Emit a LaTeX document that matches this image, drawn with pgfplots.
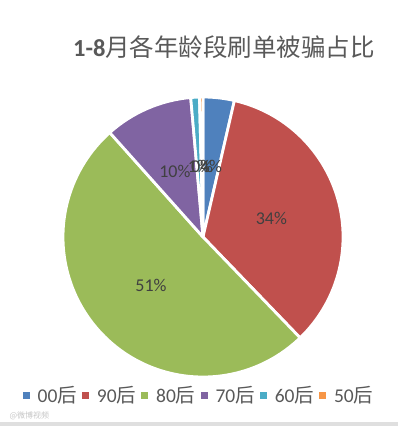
\documentclass[border=0pt]{standalone}
\usepackage{pgfplots}
\usepackage{pgfplotstable}
\pgfplotsset{compat=1.18}
\usetikzlibrary{calc}
\usepackage{fontspec}
\setmainfont{Carlito}
\newfontfamily\cjk{Noto Sans CJK SC}
\definecolor{c1}{HTML}{4F81BD}
\definecolor{c2}{HTML}{C0504D}
\definecolor{c3}{HTML}{9BBB59}
\definecolor{c4}{HTML}{8064A2}
\definecolor{c5}{HTML}{4BACC6}
\definecolor{c6}{HTML}{F79646}
\definecolor{txt}{HTML}{595959}
\definecolor{lbl}{HTML}{404040}
\pgfplotstableread{
group value color
00 3.6 c1
90 34.2 c2
80 50.6 c3
70 10.2 c4
60 1.0 c5
50 0.4 c6
}\piedata
\begin{document}
\begin{tikzpicture}
\begin{axis}[
  scale only axis, width=398pt, height=426pt,
  xmin=0, xmax=398, ymin=0, ymax=426, y dir=reverse,
  hide axis, clip=false,
  legend columns=6,
  legend style={draw=none, fill=none, at={(axis description cs:0.5,0.072)}, anchor=center,
    font=\fontsize{19.5}{19.5}\selectfont, text=txt,
    /tikz/every odd column/.append style={column sep=6pt},
    /tikz/every even column/.append style={column sep=3pt},
    legend cell align=left, inner sep=0pt},
  legend image code/.code={\fill[#1, draw=none] (0pt,-3.5pt) rectangle (7pt,3.5pt);},
]
\fill[white] (axis description cs:0,0) rectangle (axis description cs:1,1);
\fill[gray!25] (axis cs:0,422) rectangle (axis cs:398,426);
\node[text=gray!45, font=\cjk\fontsize{8}{8}\selectfont, anchor=west] at (axis cs:6,416) {@微博视频};
\node[font=\fontsize{24.5}{24.5}\selectfont, text=txt] at (axis cs:224,47) {\textbf{1-8}{\cjk 月各年龄段刷单被骗占比}};
\gdef\cum{0}
\pgfplotsforeachungrouped \i in {0,...,5}{
  \pgfplotstablegetelem{\i}{value}\of\piedata \let\val\pgfplotsretval
  \pgfplotstablegetelem{\i}{color}\of\piedata \let\col\pgfplotsretval
  \pgfmathsetmacro\sa{90-3.6*\cum}
  \pgfmathsetmacro\ea{90-3.6*(\cum+\val)}
  \pgfmathsetmacro\newcum{\cum+\val}
  \xdef\cum{\newcum}
  \edef\temp{\noexpand\fill[\col, draw=white, line width=2.8pt, line join=round] (axis cs:203,237) -- ++(\sa:140pt) arc[start angle=\sa, end angle=\ea, radius=140pt] -- cycle;}
  \temp
}
\gdef\cum{0}
\pgfplotsforeachungrouped \i in {0,...,5}{
  \pgfplotstablegetelem{\i}{value}\of\piedata \let\val\pgfplotsretval
  \pgfmathsetmacro\sa{90-3.6*\cum}
  \pgfmathsetmacro\ea{90-3.6*(\cum+\val)}
  \pgfmathsetmacro\ma{(\sa+\ea)/2}
  \pgfmathsetmacro\newcum{\cum+\val}
  \xdef\cum{\newcum}
  \pgfmathtruncatemacro\pct{round(\val)}
  \edef\temp{\noexpand\node[text=lbl, font=\noexpand\fontsize{18}{18}\noexpand\selectfont] at ($(axis cs:203,237)+(\ma:71pt)$) {\pct\noexpand\%};}
  \temp
}
\addlegendimage{fill=c1}\addlegendentry{00{\cjk 后}}
\addlegendimage{fill=c2}\addlegendentry{90{\cjk 后}}
\addlegendimage{fill=c3}\addlegendentry{80{\cjk 后}}
\addlegendimage{fill=c4}\addlegendentry{70{\cjk 后}}
\addlegendimage{fill=c5}\addlegendentry{60{\cjk 后}}
\addlegendimage{fill=c6}\addlegendentry{50{\cjk 后}}
\end{axis}
\end{tikzpicture}
\end{document}
